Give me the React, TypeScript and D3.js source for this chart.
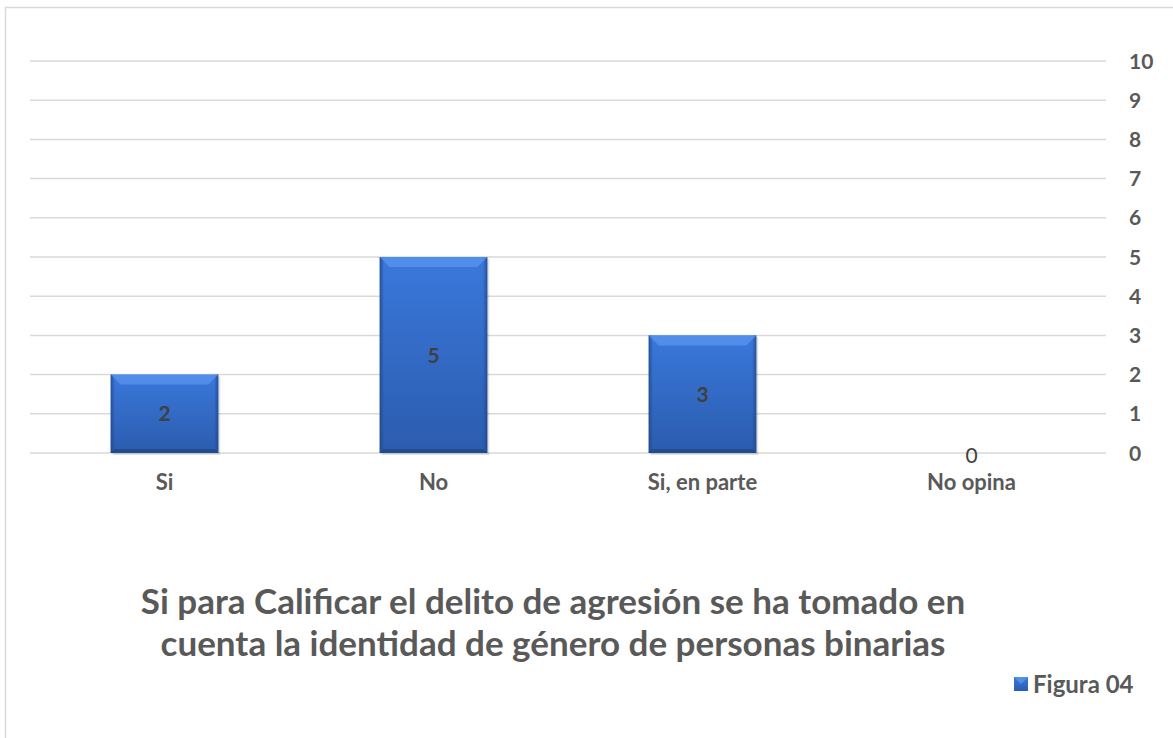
import { useEffect, useRef } from 'react';
import * as d3 from 'd3';

const categories = ["Si", "No", "Si, en parte", "No opina"];
const values = [2, 5, 3, 0];
const yTicks = [0, 1, 2, 3, 4, 5, 6, 7, 8, 9, 10];
const titleLines = [
    "Si para Calificar el delito de agresión se ha tomado en",
    "cuenta la identidad de género de personas binarias"
];
const legendLabel = "Figura 04";

const W = 1173, H = 738;
const FONT = "Lato, 'Open Sans', sans-serif";

const App = () => {
    const ref = useRef<SVGSVGElement>(null);

    useEffect(() => {
        const svg = d3.select(ref.current);
        svg.selectAll("*").remove();

        const margin = { left: 30, right: 67, top: 61, bottom: 285 };
        const x = d3.scaleBand().domain(categories).range([margin.left, W - margin.right]).paddingInner(0.6).paddingOuter(0.3);
        const y = d3.scaleLinear().domain([0, 10]).range([H - margin.bottom, margin.top]);

        const defs = svg.append("defs");
        const grad = defs.append("linearGradient").attr("id", "barGrad").attr("x1", 0).attr("y1", 0).attr("x2", 0).attr("y2", 1);
        grad.append("stop").attr("offset", "0%").attr("stop-color", "#3a78db");
        grad.append("stop").attr("offset", "100%").attr("stop-color", "#2b5cae");
        const sideGrad = defs.append("linearGradient").attr("id", "sideGrad").attr("x1", 0).attr("y1", 0).attr("x2", 1).attr("y2", 0);
        sideGrad.append("stop").attr("offset", "0%").attr("stop-color", "#1f4688").attr("stop-opacity", 0.8);
        sideGrad.append("stop").attr("offset", "4%").attr("stop-color", "#1f4688").attr("stop-opacity", 0);
        sideGrad.append("stop").attr("offset", "96%").attr("stop-color", "#1f4688").attr("stop-opacity", 0);
        sideGrad.append("stop").attr("offset", "100%").attr("stop-color", "#1f4688").attr("stop-opacity", 0.8);

        // chart border
        svg.append("rect")
            .attr("x", 5.5).attr("y", 7.5).attr("width", W + 10).attr("height", H + 10)
            .attr("fill", "white").attr("stroke", "#d9d9d9").attr("stroke-width", 1.5);

        // gridlines
        svg.append("g").selectAll("line").data(yTicks).join("line")
            .attr("x1", margin.left).attr("x2", W - margin.right)
            .attr("y1", d => y(d)).attr("y2", d => y(d))
            .attr("stroke", "#d9d9d9").attr("stroke-width", 1.5);

        // right axis labels
        svg.append("g").selectAll("text").data(yTicks).join("text")
            .attr("x", 1129).attr("y", d => y(d)).attr("dy", "0.36em")
            .attr("font-family", FONT).attr("font-weight", "bold").attr("font-size", 21)
            .attr("fill", "#595959").text(d => d);

        // bars
        const bars = svg.append("g").selectAll("g").data(categories).join("g");
        bars.filter((d, i) => values[i] > 0).each(function (d) {
            const i = categories.indexOf(d);
            const g = d3.select(this);
            const bx = x(d)!, bw = x.bandwidth();
            const by = y(values[i]), bh = y(0) - y(values[i]);
            g.append("rect").attr("x", bx + 2).attr("y", by + 2).attr("width", bw).attr("height", bh)
                .attr("fill", "#000").attr("opacity", 0.12);
            g.append("rect").attr("x", bx).attr("y", by).attr("width", bw).attr("height", bh).attr("fill", "url(#barGrad)");
            g.append("rect").attr("x", bx).attr("y", by).attr("width", bw).attr("height", bh).attr("fill", "url(#sideGrad)");
            const b = 10;
            g.append("path")
                .attr("d", `M${bx},${by}L${bx + bw},${by}L${bx + bw - b},${by + b}L${bx + b},${by + b}Z`)
                .attr("fill", "#5a96ee").attr("opacity", 0.75);
            g.append("path")
                .attr("d", `M${bx},${by + bh}L${bx + bw},${by + bh}L${bx + bw - 4},${by + bh - 4}L${bx + 4},${by + bh - 4}Z`)
                .attr("fill", "#1c3f7c").attr("opacity", 0.6);
        });

        // value labels
        svg.append("g").selectAll("text").data(categories).join("text")
            .attr("x", d => x(d)! + x.bandwidth() / 2)
            .attr("y", (d, i) => values[i] > 0 ? (y(values[i]) + y(0)) / 2 : y(0) + 2)
            .attr("dy", "0.36em").attr("text-anchor", "middle")
            .attr("font-family", FONT)
            .attr("font-weight", (d, i) => values[i] > 0 ? "bold" : "normal")
            .attr("font-size", 21).attr("fill", "#404040")
            .text((d, i) => values[i]);

        // category labels
        svg.append("g").selectAll("text").data(categories).join("text")
            .attr("x", d => x(d)! + x.bandwidth() / 2).attr("y", y(0) + 37)
            .attr("text-anchor", "middle").attr("font-family", FONT).attr("font-weight", "bold")
            .attr("font-size", 22).attr("fill", "#595959").text(d => d);

        // title
        svg.append("g").selectAll("text").data(titleLines).join("text")
            .attr("x", 553).attr("y", (d, i) => 614 + i * 42)
            .attr("text-anchor", "middle").attr("font-family", FONT).attr("font-weight", "bold")
            .attr("font-size", 35).attr("fill", "#595959").text(d => d);

        // legend
        svg.append("rect").attr("x", 1014).attr("y", 677).attr("width", 14).attr("height", 14).attr("fill", "url(#barGrad)");
        svg.append("path").attr("d", "M1014,677L1028,677L1021,684Z").attr("fill", "#5a96ee").attr("opacity", 0.8);
        svg.append("text").attr("x", 1033).attr("y", 684).attr("dy", "0.36em")
            .attr("font-family", FONT).attr("font-weight", "bold").attr("font-size", 24)
            .attr("fill", "#595959").text(legendLabel);
    }, []);

    return (
        <svg ref={ref} width={W} height={H} style={{ position: "absolute", left: 0, top: 0 }} />
    );
};

export default App;
